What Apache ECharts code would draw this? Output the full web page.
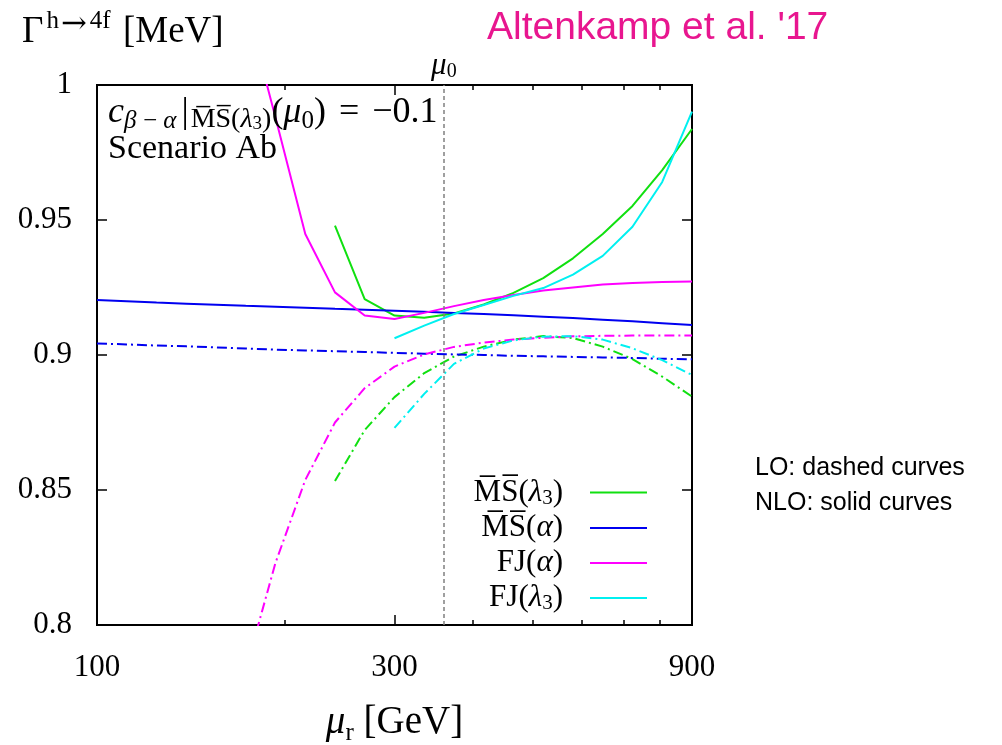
<!DOCTYPE html>
<html><head><meta charset="utf-8">
<script src="https://cdn.jsdelivr.net/npm/echarts@6/dist/echarts.min.js"></script>
<style>html,body{margin:0;padding:0;background:#fff}#c{width:1002px;height:745px}</style>
</head><body><div id="c"></div>
<script>
// renormalisation scale grid mu_r [GeV]
const MU = [100, 111.6, 124.6, 139.1, 155.2, 173.2, 193.3, 215.8, 240.8, 268.7, 300,
            334.8, 373.7, 417.1, 465.5, 519.6, 579.9, 647.3, 722.4, 806.3, 900];
const MU0 = 360;
const X_LABELS = [100, 300, 900];
const X_MAJOR_TICKS = [300];
const X_MINOR_TICKS = [200, 400, 500, 600, 700, 800];

// NLO (solid)
const NLO_MSl3 = [null,null,null,null,null,null,null,null,
  0.9479, 0.9207, 0.9146, 0.9138, 0.9154, 0.9187, 0.9230, 0.9285, 0.9358, 0.9448, 0.9552, 0.9685, 0.9837];
const NLO_MSa = [0.9204, 0.9199, 0.9194, 0.9190, 0.9186, 0.9182, 0.9179, 0.9175, 0.9171, 0.9168, 0.9164,
  0.9160, 0.9156, 0.9152, 0.9147, 0.9142, 0.9137, 0.9131, 0.9125, 0.9118, 0.9111];
const NLO_FJa = [null,null,null,null,null,
  1.030, 0.988, 0.9448, 0.9232, 0.9146, 0.9133, 0.9156, 0.9181, 0.9204, 0.9222, 0.9239, 0.9250, 0.9261, 0.9267, 0.9270, 0.9272];
const NLO_FJl3 = [null,null,null,null,null,null,null,null,null,null,
  0.9062, 0.9109, 0.9152, 0.9185, 0.9219, 0.9248, 0.9298, 0.9367, 0.9475, 0.9641, 0.9901];
// LO (dash-dotted)
const LO_MSl3 = [null,null,null,null,null,null,null,null,
  0.8533, 0.8722, 0.8844, 0.8933, 0.8994, 0.9031, 0.9057, 0.9070, 0.9063, 0.9031, 0.8985, 0.8920, 0.8846];
const LO_MSa = [0.9043, 0.9039, 0.9035, 0.9032, 0.9028, 0.9024, 0.9020, 0.9017, 0.9014, 0.9011, 0.9008,
  0.9005, 0.9002, 0.9000, 0.8997, 0.8995, 0.8993, 0.8991, 0.8989, 0.8986, 0.8984];
const LO_FJa = [null,null,null,null,null,
  0.7833, 0.8230, 0.8537, 0.8750, 0.8877, 0.8957, 0.9002, 0.9030, 0.9046, 0.9057, 0.9064, 0.9069, 0.9071, 0.9072, 0.9072, 0.9072];
const LO_FJl3 = [null,null,null,null,null,null,null,null,null,null,
  0.8730, 0.8856, 0.8967, 0.9024, 0.9054, 0.9068, 0.9070, 0.9057, 0.9025, 0.8981, 0.8926];

const SERIF = "'Liberation Serif','DejaVu Serif',serif";
const SANS = "'Liberation Sans',Arial,sans-serif";
const C_GREEN = '#10e010', C_BLUE = '#0000f0', C_MAG = '#ff00ff', C_CYAN = '#00f0f0';
const DASHDOT = [10, 4, 2, 4];

function pairs(ys) { const out = []; ys.forEach((y, i) => { if (y !== null) out.push([MU[i], y]); }); return out; }
function line(name, ys, color, dashed) {
  return { name, type: 'line', data: pairs(ys), symbol: 'none', showSymbol: false, clip: true,
    lineStyle: { color, width: 2, type: dashed ? DASHDOT : 'solid' }, itemStyle: { color }, z: 3 };
}

const chart = echarts.init(document.getElementById('c'), null, { renderer: 'canvas' });
const xBase = { type: 'log', logBase: 10, min: 100, max: 900, gridIndex: 0,
  axisLine: { show: false }, splitLine: { show: false }, minorTick: { show: false } };
const tickStyle = { color: '#000', width: 1.5 };

const legendNames = { MSl3: '{n|M̅S̅(}{i|λ}{s|3}{n|)}{sp|}', MSa: '{n|M̅S̅(}{i|α}{n|)}{sp|}',
  FJa: '{n|FJ(}{i|α}{n|)}{sp|}', FJl3: '{n|FJ(}{i|λ}{s|3}{n|)}{sp|}' };

const series = [
  line('MSl3', NLO_MSl3, C_GREEN, false),
  line('MSa', NLO_MSa, C_BLUE, false),
  line('FJa', NLO_FJa, C_MAG, false),
  line('FJl3', NLO_FJl3, C_CYAN, false),
  line('MSl3 LO', LO_MSl3, C_GREEN, true),
  line('MSa LO', LO_MSa, C_BLUE, true),
  line('FJa LO', LO_FJa, C_MAG, true),
  line('FJl3 LO', LO_FJl3, C_CYAN, true)
];
series[0].markLine = { silent: true, symbol: 'none', animation: false,
  lineStyle: { color: '#808080', type: [4, 3], width: 1.5 },
  label: { show: true, position: 'end', distance: 3, formatter: '{m|μ}{s|0}',
    rich: { m: { fontFamily: SERIF, fontStyle: 'italic', fontSize: 31, color: '#000', lineHeight: 32 },
            s: { fontFamily: SERIF, fontSize: 20, color: '#000', lineHeight: 14, verticalAlign: 'bottom' } } },
  data: [{ xAxis: MU0 }] };

chart.setOption({
  animation: false,
  backgroundColor: '#fff',
  grid: { left: 97, right: 310, top: 85, bottom: 120, show: true, borderColor: '#000', borderWidth: 2,
    backgroundColor: 'transparent', containLabel: false, outerBoundsMode: 'none' },
  xAxis: [
    Object.assign({}, xBase, { position: 'bottom',
      axisTick: { inside: true, length: 10, customValues: X_MAJOR_TICKS, lineStyle: tickStyle },
      axisLabel: { customValues: X_LABELS, margin: 27, fontFamily: SERIF, fontSize: 31, color: '#000' },
      name: '{i|μ}{s|r}{n| [GeV]}', nameLocation: 'middle', nameGap: 75,
      nameTextStyle: { rich: {
        i: { fontFamily: SERIF, fontStyle: 'italic', fontSize: 39, color: '#000', lineHeight: 46 },
        s: { fontFamily: SERIF, fontSize: 25, color: '#000', lineHeight: 22, verticalAlign: 'bottom' },
        n: { fontFamily: SERIF, fontSize: 39, color: '#000', lineHeight: 46 } } } }),
    Object.assign({}, xBase, { position: 'bottom',
      axisTick: { inside: true, length: 5, customValues: X_MINOR_TICKS, lineStyle: tickStyle },
      axisLabel: { show: false } }),
    Object.assign({}, xBase, { position: 'top',
      axisTick: { inside: true, length: 10, customValues: X_MAJOR_TICKS, lineStyle: tickStyle },
      axisLabel: { show: false } }),
    Object.assign({}, xBase, { position: 'top',
      axisTick: { inside: true, length: 5, customValues: X_MINOR_TICKS, lineStyle: tickStyle },
      axisLabel: { show: false } })
  ],
  yAxis: [
    { type: 'value', min: 0.8, max: 1, interval: 0.05, position: 'left',
      axisLine: { show: false }, splitLine: { show: false },
      axisTick: { inside: true, length: 10, lineStyle: tickStyle },
      axisLabel: { margin: 25, fontFamily: SERIF, fontSize: 31, color: '#000', padding: [6, 0, 0, 0] } },
    { type: 'value', min: 0.8, max: 1, interval: 0.05, position: 'right',
      axisLine: { show: false }, splitLine: { show: false },
      axisTick: { inside: true, length: 10, lineStyle: tickStyle },
      axisLabel: { show: false } }
  ],
  legend: {
    data: ['MSl3', 'MSa', 'FJa', 'FJl3'], orient: 'vertical', align: 'right', padding: 0,
    right: 355, top: 477, itemWidth: 57, itemHeight: 2, itemGap: 4, selectedMode: false, icon: 'rect',
    formatter: n => legendNames[n],
    textStyle: { rich: {
      n: { fontFamily: SERIF, fontSize: 31, color: '#000', lineHeight: 32 },
      i: { fontFamily: SERIF, fontStyle: 'italic', fontSize: 31, color: '#000', lineHeight: 32 },
      s: { fontFamily: SERIF, fontSize: 21, color: '#000', lineHeight: 14, verticalAlign: 'bottom' },
      sp: { width: 22 } } }
  },
  graphic: [
    { type: 'text', left: 22, top: 9, silent: true, style: {
      text: '{m|Γ}{h|h}{arr|→}{sup|4f}{m| [MeV]}',
      rich: { m: { fontFamily: SERIF, fontSize: 37, fill: '#000', lineHeight: 46 },
              h: { fontFamily: SERIF, fontSize: 25, fill: '#000', lineHeight: 18, verticalAlign: 'top', padding: [0, 0, 0, 3] },
              sup: { fontFamily: SERIF, fontSize: 25, fill: '#000', lineHeight: 18, verticalAlign: 'top', padding: [0, 3, 0, 0] },
              arr: { fontFamily: "'DejaVu Serif',serif", fontSize: 31, fill: '#000', lineHeight: 16, verticalAlign: 'top', padding: [0, 3, 0, 2] } } } },
    { type: 'text', x: 487, y: 28, silent: true, style: {
      text: "Altenkamp et al. '17", fontFamily: SANS, fontSize: 39, fill: '#e8168f', verticalAlign: 'middle' } },
    { type: 'text', left: 108, top: 95, silent: true, z: 10, style: {
      text: '{i|c}{sb|β\u2009−\u2009α}{bar||}{sbn|M̅S̅(}{sbi|λ}{ssb|3}{sbn|)}{n|(}{i|μ}{sb0|0}{n|)}{eq|=}{n|−0.1}',
      rich: {
        n: { fontFamily: SERIF, fontSize: 36, fill: '#000', lineHeight: 42 },
        eq: { fontFamily: SERIF, fontSize: 36, fill: '#000', lineHeight: 42, padding: [0, 13, 0, 13] },
        bar: { fontFamily: SERIF, fontSize: 36, fill: '#000', lineHeight: 42, padding: [0, 2, 0, 5] },
        i: { fontFamily: SERIF, fontStyle: 'italic', fontSize: 36, fill: '#000', lineHeight: 42 },
        sb: { fontFamily: SERIF, fontStyle: 'italic', fontSize: 25, fill: '#000', lineHeight: 24, verticalAlign: 'bottom' },
        sb0: { fontFamily: SERIF, fontSize: 25, fill: '#000', lineHeight: 24, verticalAlign: 'bottom' },
        sbn: { fontFamily: SERIF, fontSize: 28, fill: '#000', lineHeight: 14, verticalAlign: 'bottom' },
        sbi: { fontFamily: SERIF, fontStyle: 'italic', fontSize: 28, fill: '#000', lineHeight: 14, verticalAlign: 'bottom' },
        ssb: { fontFamily: SERIF, fontSize: 19, fill: '#000', lineHeight: 4, verticalAlign: 'bottom' } } } },
    { type: 'text', x: 108, y: 149, silent: true, z: 10, style: {
      text: 'Scenario Ab', fontFamily: SERIF, fontSize: 34, fill: '#000', verticalAlign: 'middle' } },
    { type: 'text', x: 755, y: 468, silent: true, style: {
      text: 'LO: dashed curves', fontFamily: SANS, fontSize: 25, fill: '#000', verticalAlign: 'middle' } },
    { type: 'text', x: 755, y: 503, silent: true, style: {
      text: 'NLO: solid curves', fontFamily: SANS, fontSize: 25, fill: '#000', verticalAlign: 'middle' } }
  ],
  series
});
</script></body></html>
